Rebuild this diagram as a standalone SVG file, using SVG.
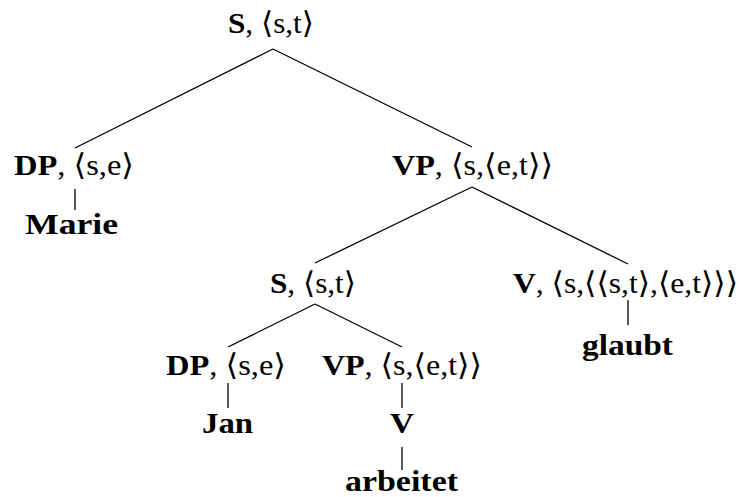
<svg xmlns="http://www.w3.org/2000/svg" width="739" height="497" viewBox="0 0 739 497">
<style>
text{font-family:"Liberation Serif","Times New Roman",serif;font-size:30px;fill:#000}
.b{font-weight:bold}
.r{font-family:"Liberation Serif","Times New Roman",serif;font-weight:normal}
.a{font-family:"DejaVu Serif",serif;font-weight:normal}
.e{stroke:#000;stroke-width:1.3;fill:none}
</style>
<rect width="739" height="497" fill="#fff"/>
<g id="connectors">
<line class="e" x1="273" y1="49" x2="75" y2="148"/>
<line class="e" x1="273" y1="49" x2="472" y2="147"/>
<line class="e" x1="75" y1="189" x2="75" y2="210"/>
<line class="e" x1="472" y1="187" x2="315" y2="263"/>
<line class="e" x1="472" y1="187" x2="628" y2="264"/>
<line class="e" x1="628" y1="300" x2="628" y2="325"/>
<line class="e" x1="315" y1="304" x2="228" y2="347"/>
<line class="e" x1="315" y1="304" x2="402" y2="347"/>
<line class="e" x1="228" y1="383" x2="228" y2="408"/>
<line class="e" x1="402" y1="383" x2="402" y2="408"/>
<line class="e" x1="402" y1="447" x2="402" y2="470"/>
</g>
<g id="n-root"><text x="228" y="33" textLength="86" lengthAdjust="spacingAndGlyphs"><tspan class="b">S</tspan><tspan class="r">, </tspan><tspan class="a">⟨</tspan><tspan class="r">s,t</tspan><tspan class="a">⟩</tspan></text></g>
<g id="n-dp1"><text x="14" y="175" textLength="120" lengthAdjust="spacingAndGlyphs"><tspan class="b">DP</tspan><tspan class="r">, </tspan><tspan class="a">⟨</tspan><tspan class="r">s,e</tspan><tspan class="a">⟩</tspan></text></g>
<g id="n-marie"><text class="b" x="25" y="234" textLength="93" lengthAdjust="spacingAndGlyphs">Marie</text></g>
<g id="n-vp1"><text x="392" y="175" textLength="161" lengthAdjust="spacingAndGlyphs"><tspan class="b">VP</tspan><tspan class="r">, </tspan><tspan class="a">⟨</tspan><tspan class="r">s,</tspan><tspan class="a">⟨</tspan><tspan class="r">e,t</tspan><tspan class="a">⟩⟩</tspan></text></g>
<g id="n-s2"><text x="270" y="293" textLength="86" lengthAdjust="spacingAndGlyphs"><tspan class="b">S</tspan><tspan class="r">, </tspan><tspan class="a">⟨</tspan><tspan class="r">s,t</tspan><tspan class="a">⟩</tspan></text></g>
<g id="n-v1"><text x="513" y="293" textLength="225" lengthAdjust="spacingAndGlyphs"><tspan class="b">V</tspan><tspan class="r">, </tspan><tspan class="a">⟨</tspan><tspan class="r">s,</tspan><tspan class="a">⟨⟨</tspan><tspan class="r">s,t</tspan><tspan class="a">⟩</tspan><tspan class="r">,</tspan><tspan class="a">⟨</tspan><tspan class="r">e,t</tspan><tspan class="a">⟩⟩⟩</tspan></text></g>
<g id="n-glaubt"><text class="b" x="582" y="355" textLength="91" lengthAdjust="spacingAndGlyphs">glaubt</text></g>
<g id="n-dp2"><text x="166" y="375" textLength="120" lengthAdjust="spacingAndGlyphs"><tspan class="b">DP</tspan><tspan class="r">, </tspan><tspan class="a">⟨</tspan><tspan class="r">s,e</tspan><tspan class="a">⟩</tspan></text></g>
<g id="n-jan"><text class="b" x="202" y="433" textLength="51" lengthAdjust="spacingAndGlyphs">Jan</text></g>
<g id="n-vp2"><text x="322" y="375" textLength="160" lengthAdjust="spacingAndGlyphs"><tspan class="b">VP</tspan><tspan class="r">, </tspan><tspan class="a">⟨</tspan><tspan class="r">s,</tspan><tspan class="a">⟨</tspan><tspan class="r">e,t</tspan><tspan class="a">⟩⟩</tspan></text></g>
<g id="n-v2"><text class="b" x="390" y="433" textLength="24" lengthAdjust="spacingAndGlyphs">V</text></g>
<g id="n-arbeitet"><text class="b" x="345" y="491" textLength="113" lengthAdjust="spacingAndGlyphs">arbeitet</text></g>
</svg>
